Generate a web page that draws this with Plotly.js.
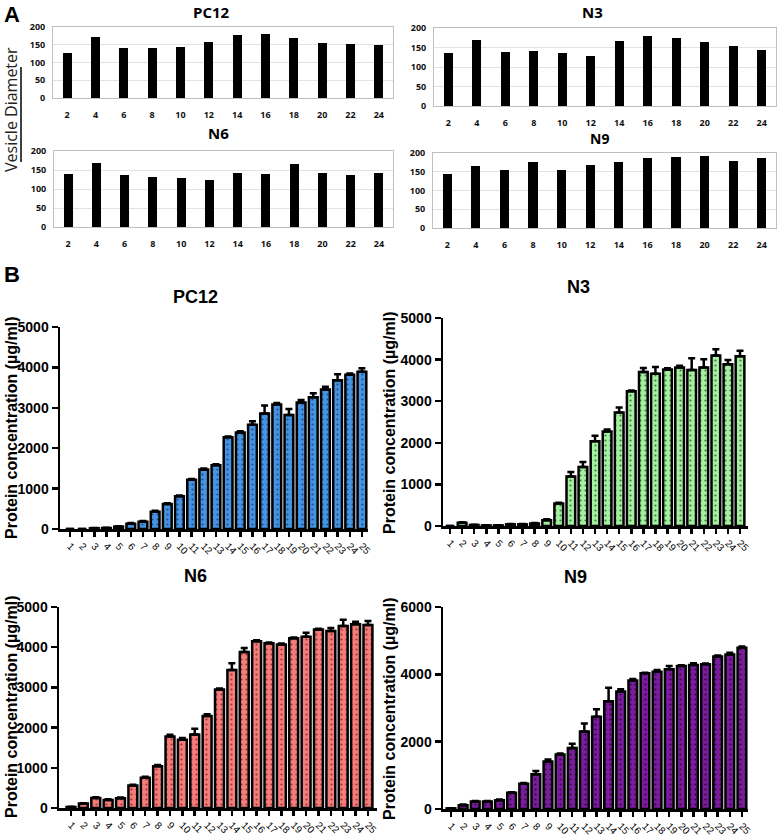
<!DOCTYPE html>
<html>
<head>
<meta charset="utf-8">
<script src="https://cdn.plot.ly/plotly-3.0.1.min.js"></script>
<style>html,body{margin:0;padding:0;background:#fff;}#chart{width:777px;height:835px;}</style>
</head>
<body>
<div id="chart"></div>
<script>
// ---------- DATA ----------
const diamCats = ['2','4','6','8','10','12','14','16','18','20','22','24'];
const pc12Diam = [126, 172, 142, 142, 145, 159, 178, 181, 168, 154, 152, 148];
const n3Diam   = [135, 168, 138, 141, 135, 127, 167, 180, 174, 163, 155, 143];
const n6Diam   = [140, 169, 138, 131, 128, 123, 141, 140, 167, 143, 137, 141];
const n9Diam   = [145, 165, 155, 176, 156, 169, 176, 188, 189, 191, 179, 187];

const fractions = [1,2,3,4,5,6,7,8,9,10,11,12,13,14,15,16,17,18,19,20,21,22,23,24,25];
const pc12Prot = [0, 0, 20, 25, 60, 130, 180, 430, 620, 810, 1220, 1470, 1580, 2270, 2390, 2580, 2860, 3080, 2820, 3130, 3260, 3450, 3680, 3820, 3890];
const pc12Err  = [0, 0, 5, 5, 10, 20, 20, 20, 20, 20, 20, 30, 20, 20, 30, 90, 200, 40, 150, 60, 100, 70, 150, 30, 90];
const n3Prot   = [0, 80, 25, 15, 15, 40, 40, 60, 140, 540, 1190, 1420, 2040, 2270, 2730, 3240, 3700, 3660, 3760, 3810, 3750, 3810, 4100, 3890, 4080];
const n3Err    = [0, 10, 5, 5, 5, 10, 10, 10, 20, 20, 110, 120, 130, 50, 120, 20, 100, 160, 30, 40, 280, 200, 150, 100, 130];
const n6Prot   = [25, 110, 250, 200, 240, 560, 750, 1040, 1780, 1700, 1830, 2290, 2950, 3430, 3880, 4150, 4100, 4070, 4220, 4260, 4440, 4400, 4530, 4570, 4550];
const n6Err    = [5, 10, 20, 20, 20, 20, 30, 30, 40, 40, 140, 40, 20, 170, 100, 20, 20, 20, 20, 100, 20, 80, 150, 60, 100];
const n9Prot   = [20, 110, 220, 220, 260, 480, 750, 1030, 1410, 1620, 1810, 2300, 2740, 3200, 3490, 3820, 4030, 4080, 4150, 4250, 4280, 4300, 4530, 4590, 4790];
const n9Err    = [5, 20, 20, 20, 20, 20, 20, 100, 60, 30, 130, 240, 220, 400, 70, 40, 20, 50, 100, 20, 50, 20, 30, 50, 40];

const lineNames = ['PC12','N3','N6','N9'];
const yTitleA = 'Vesicle Diameter';
const yTitleB = 'Protein concentration (µg/ml)';

// ---------- LAYOUT HELPERS ----------
const W = 777, H = 835;
const xd = (a,b) => [a/W, b/W];
const yd = (top,bottom) => [1-bottom/H, 1-top/H];
const px = x => x/W, py = y => 1-y/H;

const fontA = 'Open Sans, Liberation Sans, sans-serif';
const fontB = 'Arial, Liberation Sans, sans-serif';
const zeros = fractions.map(()=>0);

function axA_x(dom, anchor){
  return {domain: dom, anchor: anchor, type:'category', showline:true, mirror:true,
    linecolor:'#bfbfbf', linewidth:1, showgrid:false, zeroline:false,
    ticks:'outside', ticklen:8, tickcolor:'rgba(0,0,0,0)',
    tickfont:{family:fontA, size:9, color:'#111', weight:'bold'}, fixedrange:true};
}
function axA_y(dom, anchor){
  return {domain: dom, anchor: anchor, range:[0,200], dtick:50, showgrid:true, gridcolor:'#e3e3e3',
    showline:true, mirror:true, linecolor:'#bfbfbf', linewidth:1, zeroline:false,
    ticks:'outside', ticklen:5, tickcolor:'rgba(0,0,0,0)',
    tickfont:{family:fontA, size:9, color:'#111', weight:'bold'}, fixedrange:true};
}
function axB_x(dom, anchor, range){
  return {domain: dom, anchor: anchor, range: range, tickvals: fractions, ticktext: fractions.map(String),
    tickangle:45, ticks:'outside', ticklen:5, tickwidth:2.5, tickcolor:'#000',
    showline:true, linecolor:'#000', linewidth:2.5, showgrid:false, zeroline:false,
    tickfont:{family:fontB, size:10, color:'#000'}, fixedrange:true};
}
function axB_y(dom, anchor, max, dtick){
  return {domain: dom, anchor: anchor, range:[0,max], dtick: dtick, ticks:'outside', ticklen:6, tickwidth:2.5,
    tickcolor:'#000', showline:true, linecolor:'#000', linewidth:2.5, showgrid:false, zeroline:false,
    tickfont:{family:fontB, size:14, color:'#000', weight:'bold'}, fixedrange:true};
}

function barA(vals, n){
  return {type:'bar', x: diamCats, y: vals, xaxis:'x'+n, yaxis:'y'+n, width:0.32,
    marker:{color:'#000'}, hoverinfo:'skip'};
}
function barB(vals, errs, n, color, dot){
  return {type:'bar', x: fractions, y: vals, xaxis:'x'+n, yaxis:'y'+n, width:0.72,
    marker:{color: color, line:{color:'#000', width:2.5},
      pattern:{shape:'.', fillmode:'replace', bgcolor: color, fgcolor: dot, size:5, solidity:0.15}},
    error_y:{type:'data', symmetric:false, array: errs, arrayminus: zeros, color:'#000', thickness:2.5, width:3.5},
    hoverinfo:'skip'};
}

const data = [
  barA(pc12Diam, ''), barA(n3Diam, 2), barA(n6Diam, 3), barA(n9Diam, 4),
  barB(pc12Prot, pc12Err, 5, '#4593E3', '#1f4f8a'),
  barB(n3Prot, n3Err, 6, '#A4F0A0', '#3d7d3a'),
  barB(n6Prot, n6Err, 7, '#F47C7A', '#9a3634'),
  barB(n9Prot, n9Err, 8, '#7B1C9E', '#32063f')
];
data[0].xaxis = 'x'; data[0].yaxis = 'y';

const layout = {
  width: W, height: H, margin:{l:0,r:0,t:0,b:0}, showlegend:false,
  paper_bgcolor:'#fff', plot_bgcolor:'#fff', bargap:0,
  xaxis:  axA_x(xd(53,393), 'y'),   yaxis:  axA_y(yd(27,98), 'x'),
  xaxis2: axA_x(xd(434,776), 'y2'), yaxis2: axA_y(yd(28,106), 'x2'),
  xaxis3: axA_x(xd(54,393), 'y3'),  yaxis3: axA_y(yd(151,227), 'x3'),
  xaxis4: axA_x(xd(433,776), 'y4'), yaxis4: axA_y(yd(153,228), 'x4'),
  xaxis5: axB_x(xd(60,368), 'y5', [0.18,25.5]),  yaxis5: axB_y(yd(327,529), 'x5', 5000, 1000),
  xaxis6: axB_x(xd(443,748), 'y6', [0.42,25.66]), yaxis6: axB_y(yd(318,526), 'x6', 5000, 1000),
  xaxis7: axB_x(xd(59,377), 'y7', [0.03,25.73]),  yaxis7: axB_y(yd(607,808), 'x7', 5000, 1000),
  xaxis8: axB_x(xd(443,748), 'y8', [0.34,25.5]),  yaxis8: axB_y(yd(607,809), 'x8', 6000, 2000),
  shapes: [
    {type:'line', xref:'paper', yref:'paper', x0:px(21), x1:px(21), y0:py(67), y1:py(162), line:{color:'#000', width:1.5}}
  ],
  annotations: []
};

function ann(text, x, y, size, family, bold, angle, color){
  layout.annotations.push({text: text, x: px(x), y: py(y), xref:'paper', yref:'paper',
    xanchor:'center', yanchor:'middle', showarrow:false, textangle: angle||0,
    font:{family: family, size: size, color: color||'#000', weight: bold ? 'bold' : 'normal'}});
}
ann('A', 12, 14, 22, fontB, true);
ann('B', 12, 274, 22, fontB, true);
ann(lineNames[0], 212, 12, 15, fontA, true);
ann(lineNames[1], 592, 12, 15, fontA, true);
ann(lineNames[2], 218, 133, 15, fontA, true);
ann(lineNames[3], 599, 138, 14, fontA, true);
ann(yTitleA, 11, 110, 16, fontA, false, -90, '#222');
ann(lineNames[0], 195, 297, 18, fontB, true);
ann(lineNames[1], 578, 287, 18, fontB, true);
ann(lineNames[2], 195, 576, 18, fontB, true);
ann(lineNames[3], 575, 577, 18, fontB, true);
ann(yTitleB, 11, 428, 16, fontB, true, -90);
ann(yTitleB, 389, 422, 16, fontB, true, -90);
ann(yTitleB, 11, 707, 16, fontB, true, -90);
ann(yTitleB, 389, 708, 16, fontB, true, -90);

Plotly.newPlot('chart', data, layout, {staticPlot:true, displayModeBar:false});
</script>
</body>
</html>
